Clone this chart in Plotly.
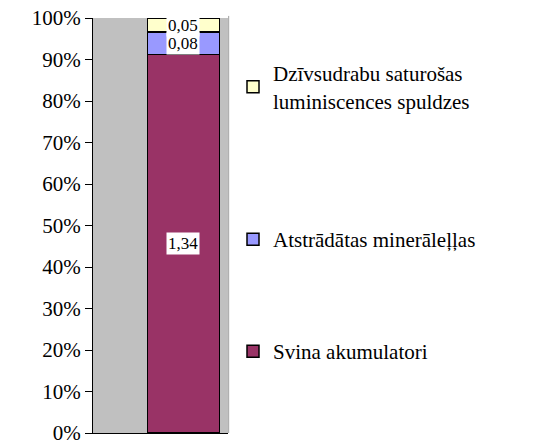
import plotly.graph_objects as go

series_names = ["Svina akumulatori", "Atstrādātas minerāleļļas",
                "Dzīvsudrabu saturošas<br>luminiscences spuldzes"]
series_values = [1.34, 0.08, 0.05]
series_colors = ["#993366", "#9999FF", "#FFFFCC"]
category = [0]

total = sum(series_values)
shares = [v / total * 100 for v in series_values]

W, H = 542, 441
L, R, T, B = 93, 314, 18, 8
FONT = "Liberation Serif, Times New Roman, serif"

fig = go.Figure()
legend_ids = ["legend3", "legend2", "legend"]
for name, share, col, lg in zip(series_names, shares, series_colors, legend_ids):
    fig.add_trace(go.Bar(
        x=category, y=[share], name=name, width=0.4,
        marker=dict(color=col, line=dict(color="black", width=1.5)),
        legend=lg, hoverinfo="skip",
    ))

# data labels
base = 0
for v, share in zip(series_values, shares):
    fig.add_annotation(
        x=0, y=base + share / 2, xref="x", yref="y",
        text=f"{v:.2f}".replace(".", ","), showarrow=False,
        bgcolor="white", font=dict(family=FONT, size=17, color="black"),
        borderpad=1,
    )
    base += share

# legend box border line
fig.add_shape(type="line", xref="paper", yref="paper", x0=1.005, x1=1.005,
              y0=0, y1=1.005, line=dict(color="#A0A0A0", width=1))

def leg(ytop):
    return dict(x=(233 - L) / (W - L - R), y=1 - (ytop - T) / (H - T - B),
                xanchor="left", yanchor="top", bgcolor="rgba(0,0,0,0)",
                font=dict(family=FONT, size=21, color="black"),
                itemclick=False, itemdoubleclick=False)

fig.update_layout(
    width=W, height=H, barmode="stack",
    margin=dict(l=L, r=R, t=T, b=B, autoexpand=False),
    paper_bgcolor="white", plot_bgcolor="#C0C0C0",
    showlegend=True,
    legend=leg(53), legend2=leg(219), legend3=leg(331),
    xaxis=dict(range=[-0.5, 0.246], showticklabels=False, showgrid=False,
               zeroline=False, showline=True, linecolor="black", linewidth=1,
               ticks=""),
    yaxis=dict(range=[0, 100], dtick=10, ticksuffix="%", showgrid=False,
               zeroline=False, showline=True, linecolor="black", linewidth=1,
               ticks="outside", ticklen=7, tickcolor="black",
               ticklabeloverflow="allow",
               tickfont=dict(family=FONT, size=21, color="black")),
)

fig.write_html("out.html", config={"displayModeBar": False},
               post_script="document.body.style.margin='0';")
